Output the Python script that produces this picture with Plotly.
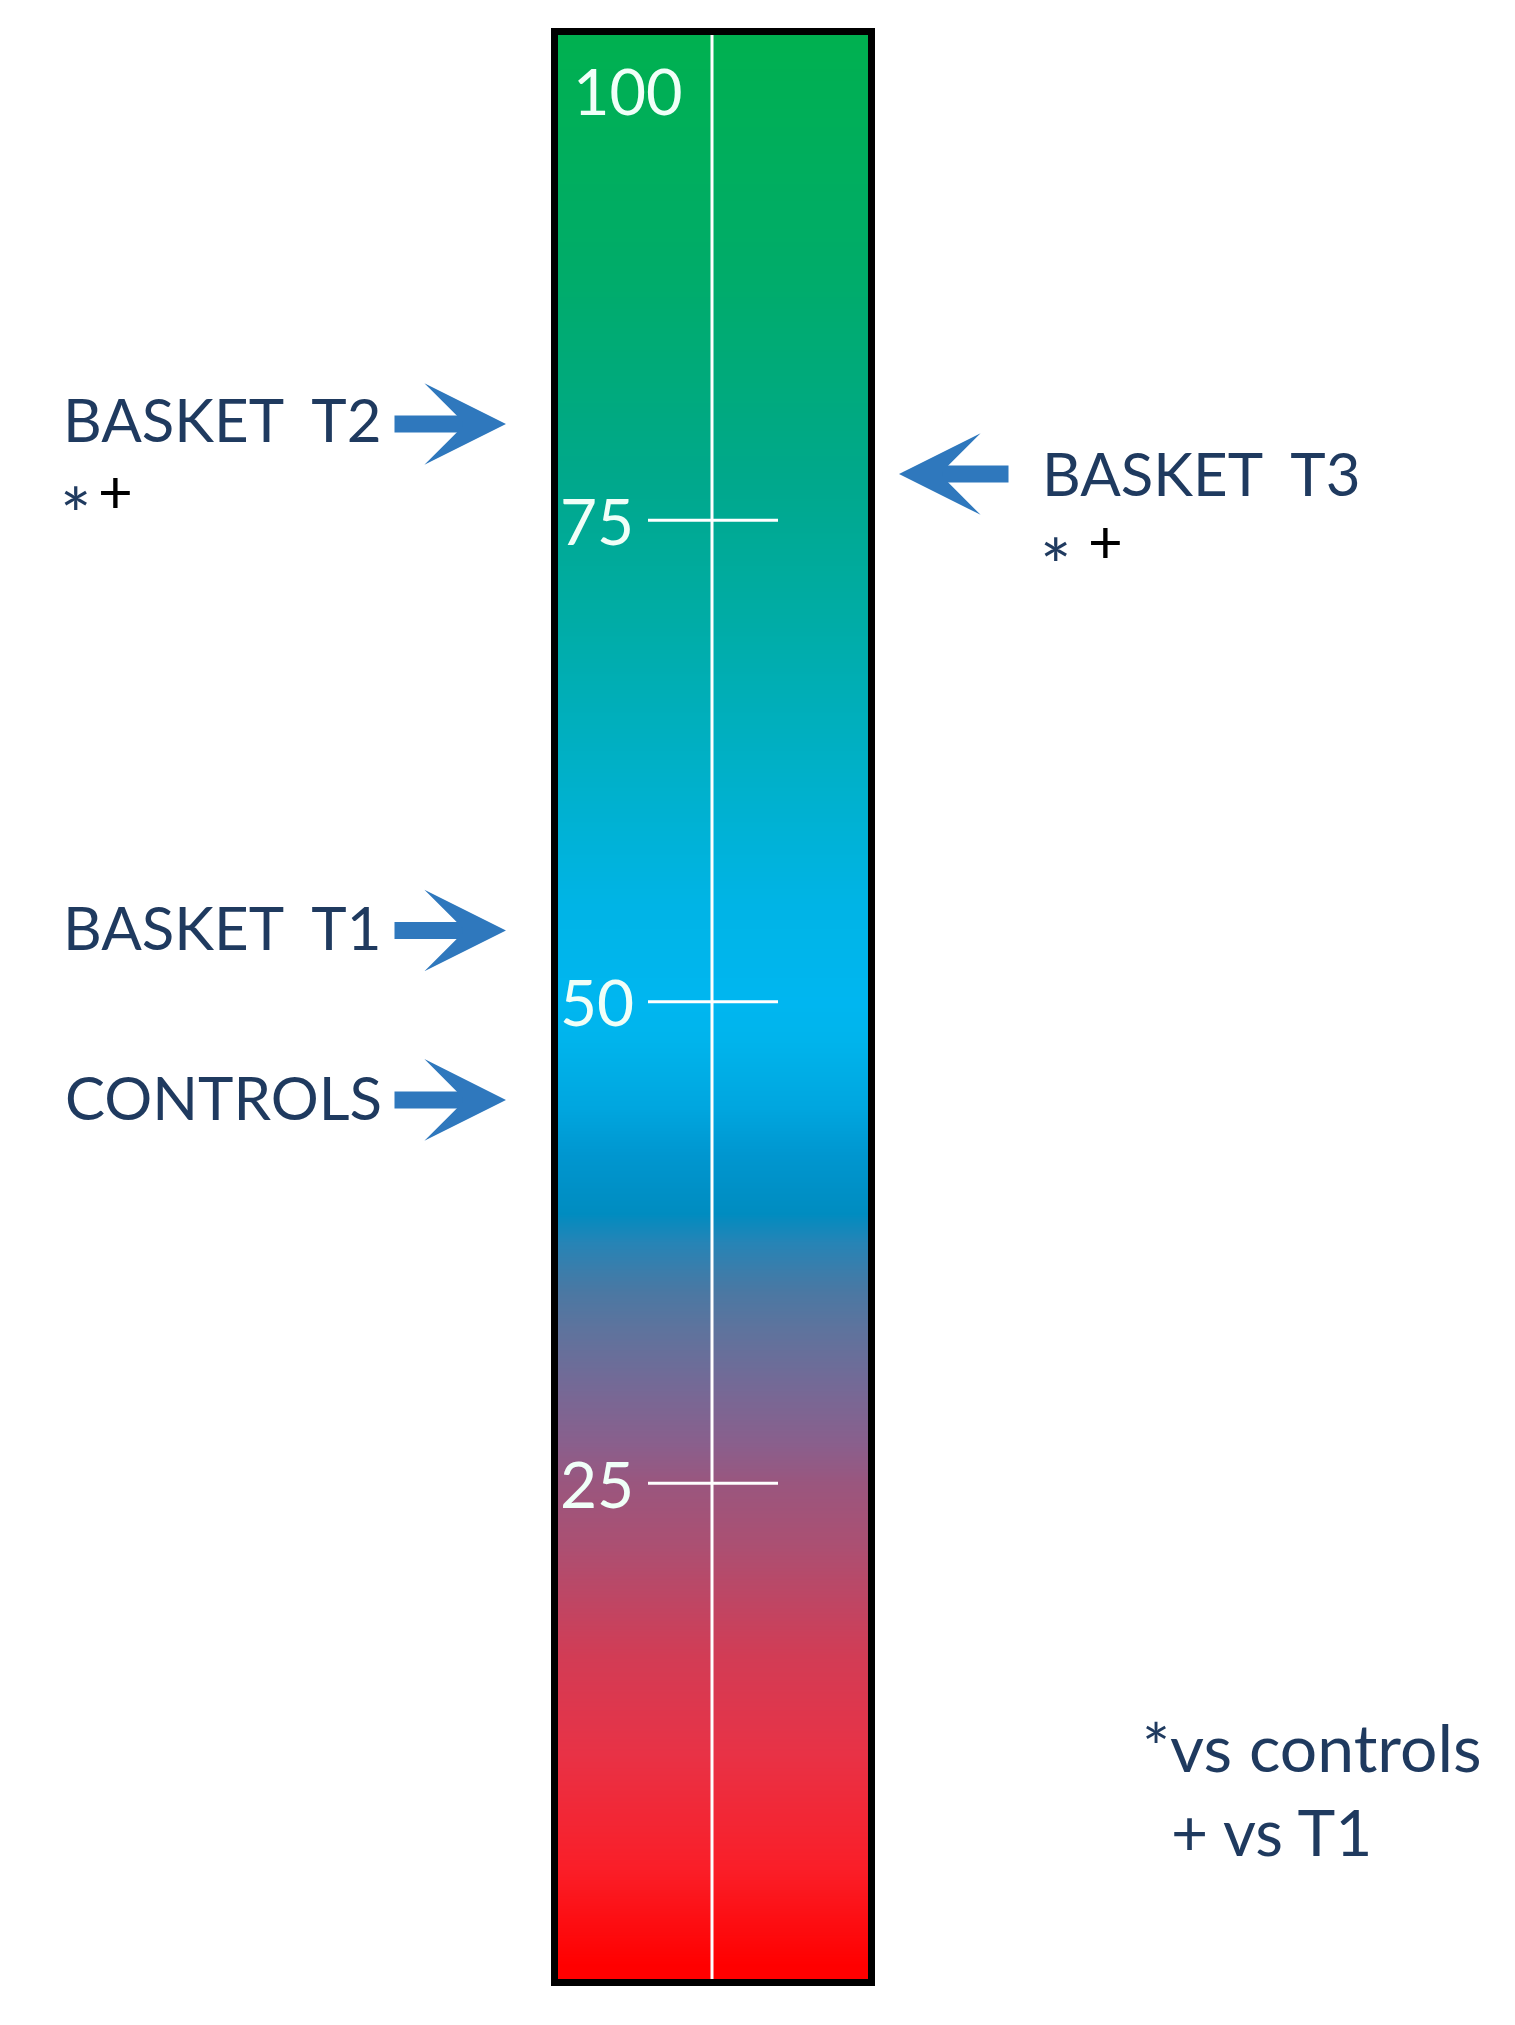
import numpy as np
import plotly.graph_objects as go

# ---- data ----
groups = ["BASKET\u00a0\u00a0T2", "BASKET\u00a0\u00a0T3", "BASKET\u00a0\u00a0T1", "CONTROLS"]
group_values = [80.0, 77.4, 53.7, 44.9]
group_side = ["left", "right", "left", "left"]
group_star = [True, True, False, False]    # * vs controls
group_plus = [True, True, False, False]    # + vs T1

tick_values = [25, 50, 75]
tick_labels = ["25", "50", "75"]
top_label = "100"
top_label_value = 97.3

footnotes = ["*vs controls", "+ vs T1"]

# colour gradient of the scale (value fraction, colour)
gradient_stops = [
    [0.00, "rgb(255,0,0)"],
    [0.05, "rgb(250,30,40)"],
    [0.11, "rgb(232,50,70)"],
    [0.16, "rgb(210,60,85)"],
    [0.22, "rgb(170,80,115)"],
    [0.25, "rgb(154,86,126)"],
    [0.27, "rgb(138,95,140)"],
    [0.30, "rgb(117,105,150)"],
    [0.33, "rgb(94,115,157)"],
    [0.35, "rgb(74,120,163)"],
    [0.375, "rgb(38,132,182)"],
    [0.39, "rgb(0,140,192)"],
    [0.42, "rgb(0,150,207)"],
    [0.445, "rgb(0,166,223)"],
    [0.48, "rgb(0,180,236)"],
    [0.50, "rgb(0,182,240)"],
    [0.55, "rgb(0,180,230)"],
    [0.62, "rgb(0,176,200)"],
    [0.70, "rgb(0,172,165)"],
    [0.77, "rgb(0,168,140)"],
    [0.88, "rgb(0,172,105)"],
    [1.00, "rgb(0,176,80)"],
]

W, H = 1515, 2025
OFF = 8  # page offset of the figure (body margin)
FONT = "Lato"
NAVY = "#1F3A5F"
ARROW = "#2F78BD"


def px(xp):  # page x pixel -> paper fraction
    return (xp - OFF) / W


def py(yp):  # page y pixel -> paper fraction
    return (H - (yp - OFF)) / H


BAR_L, BAR_R = 558 - OFF, 868 - OFF


def bx(xp):  # page x pixel -> bar (x axis) units
    return (xp - OFF - BAR_L) / (BAR_R - BAR_L)


levels = np.linspace(-1, 101, 409)
z = [[v, v] for v in levels]

fig = go.Figure()
fig.add_trace(go.Heatmap(
    x=[0, 1], y=levels, z=z, colorscale=gradient_stops, zmin=0, zmax=100,
    zsmooth="best", showscale=False, hoverinfo="skip"))

# centre line
fig.add_shape(type="line", xref="x", yref="y domain", x0=bx(712), x1=bx(712), y0=0, y1=1,
              line=dict(color="white", width=3))
# ticks and labels
for tv, tl in zip(tick_values, tick_labels):
    fig.add_shape(type="line", xref="x", yref="y", x0=bx(648), x1=bx(778), y0=tv, y1=tv,
                  line=dict(color="white", width=3))
    fig.add_annotation(x=bx(636), y=tv, xref="x", yref="y", text=tl, showarrow=False,
                       xanchor="right", yanchor="middle", yshift=0,
                       font=dict(family=FONT, size=64, color="#F0FFF8"))
fig.add_annotation(x=bx(571), y=top_label_value, xref="x", yref="y", text=top_label,
                   showarrow=False, xanchor="left", yanchor="middle",
                   font=dict(family=FONT, size=63, color="#F0FFF8"))

# group arrows and labels
for g, v, side, st, pl in zip(groups, group_values, group_side, group_star, group_plus):
    if side == "left":
        tip_x, ax, lab_x, anchor = px(506), -113, px(384), "right"
        star_x, plus_x = px(58), px(96)
        lab_shift = 5 if g.endswith("T2") else 3
    else:
        tip_x, ax, lab_x, anchor = px(899), 111, px(1040), "left"
        star_x, plus_x = px(1038), px(1086)
        lab_shift = 1
    fig.add_annotation(x=tip_x, y=v, xref="paper", yref="y", text="", showarrow=True,
                       ax=ax, ay=0, axref="pixel", ayref="pixel",
                       arrowhead=3, arrowsize=0.8, arrowwidth=17, arrowcolor=ARROW,
                       standoff=0)
    fig.add_annotation(x=lab_x, y=v, xref="paper", yref="y", text=g, showarrow=False,
                       xanchor=anchor, yanchor="middle", yshift=lab_shift,
                       font=dict(family=FONT, size=60, color=NAVY))
    if st:
        fig.add_annotation(x=star_x, y=v, xref="paper", yref="y", text="*", showarrow=False,
                           xanchor="left", yanchor="middle", yshift=-90,
                           font=dict(family=FONT, size=74, color=NAVY))
    if pl:
        fig.add_annotation(x=plus_x, y=v, xref="paper", yref="y", text="+", showarrow=False,
                           xanchor="left", yanchor="middle", yshift=-66,
                           font=dict(family=FONT, size=60, color="#000000"))

# footnotes
fig.add_annotation(x=px(1140), y=py(1746), xref="paper", yref="paper", text=footnotes[0],
                   showarrow=False, xanchor="left", yanchor="middle",
                   font=dict(family=FONT, size=66, color=NAVY))
fig.add_annotation(x=px(1169), y=py(1831), xref="paper", yref="paper", text=footnotes[1],
                   showarrow=False, xanchor="left", yanchor="middle",
                   font=dict(family=FONT, size=64, color=NAVY))

fig.update_layout(
    width=W, height=H, margin=dict(l=0, r=0, t=0, b=0),
    paper_bgcolor="white", plot_bgcolor="white", showlegend=False,
    xaxis=dict(domain=[px(558), px(868)], range=[0, 1], showgrid=False, zeroline=False,
               showticklabels=False, ticks="", showline=True, mirror=True,
               linecolor="black", linewidth=7),
    yaxis=dict(domain=[py(1979), py(35)], range=[-0.75, 100.2], showgrid=False,
               zeroline=False, showticklabels=False, ticks="", showline=True, mirror=True,
               linecolor="black", linewidth=7),
)

fig.write_html("out.html")
